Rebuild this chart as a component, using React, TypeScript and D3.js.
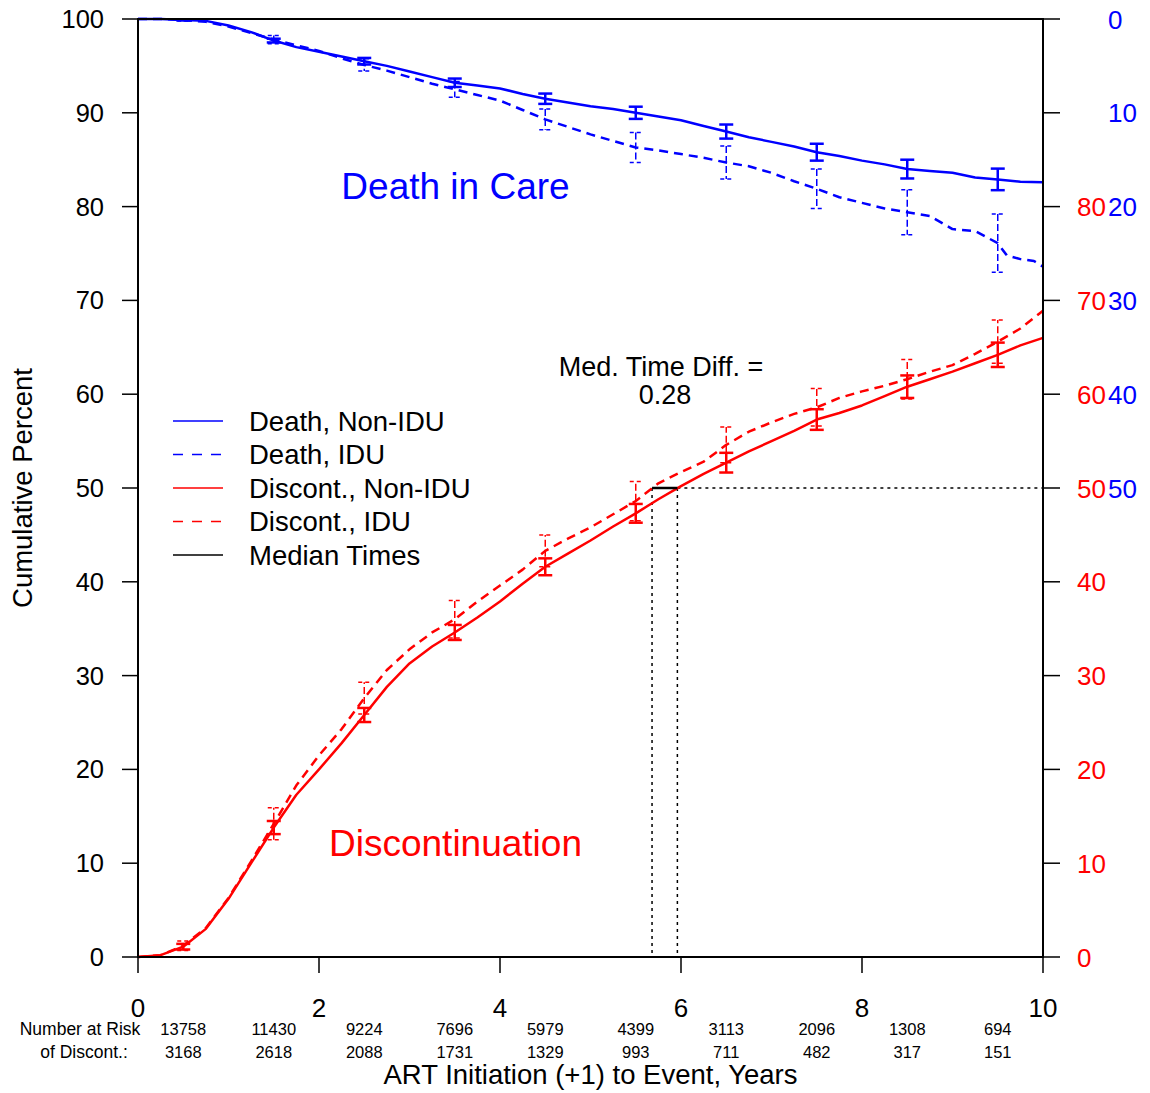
import React from "react";
import * as d3 from "d3";

// ---------- DATA ----------
const gridTimes = [0, 0.25, 0.5, 0.75, 1, 1.25, 1.5, 1.75, 2, 2.25, 2.5, 2.75, 3, 3.25, 3.5, 3.75, 4, 4.25, 4.5, 4.75, 5, 5.25, 5.5, 5.75, 6, 6.25, 6.5, 6.75, 7, 7.25, 7.5, 7.75, 8, 8.25, 8.5, 8.75, 9, 9.25, 9.5, 9.75, 10];

// cumulative death, percent (plotted on reversed right-hand blue scale)
const deathNonIdu = [0, 0, 0.1, 0.2, 0.7, 1.4, 2.3, 3.0, 3.5, 4.0, 4.5, 5.0, 5.6, 6.2, 6.8, 7.1, 7.4, 8.0, 8.5, 8.9, 9.3, 9.6, 10.0, 10.4, 10.8, 11.4, 12.0, 12.6, 13.1, 13.6, 14.2, 14.6, 15.1, 15.5, 16.0, 16.2, 16.4, 16.9, 17.1, 17.35, 17.4];

const deathIduTimes = [0, 0.25, 0.5, 0.75, 1, 1.25, 1.5, 1.75, 2, 2.25, 2.5, 2.75, 3, 3.25, 3.5, 3.75, 4, 4.25, 4.5, 4.75, 5, 5.25, 5.5, 5.75, 6, 6.25, 6.5, 6.75, 7, 7.25, 7.5, 7.75, 8, 8.25, 8.5, 8.75, 9, 9.25, 9.5, 9.6, 9.75, 9.9, 10];
const deathIdu = [0, 0, 0.1, 0.3, 0.8, 1.5, 2.2, 2.8, 3.4, 4.2, 4.9, 5.5, 6.2, 6.9, 7.5, 8.1, 8.7, 9.7, 10.7, 11.5, 12.3, 13.0, 13.7, 14.0, 14.4, 14.8, 15.3, 15.7, 16.4, 17.3, 18.1, 19.0, 19.6, 20.2, 20.6, 21.0, 22.4, 22.6, 23.9, 25.2, 25.6, 25.8, 26.4];

// cumulative discontinuation, percent
const discNonIdu = [0, 0.2, 1.1, 3.0, 6.2, 10.0, 13.8, 17.3, 20.0, 22.8, 25.8, 28.8, 31.3, 33.1, 34.6, 36.2, 37.9, 39.8, 41.6, 43.0, 44.4, 45.9, 47.3, 48.8, 50.2, 51.5, 52.7, 53.9, 55.0, 56.1, 57.3, 58.0, 58.8, 59.8, 60.8, 61.6, 62.4, 63.3, 64.2, 65.2, 66.0];
const discIdu = [0, 0.2, 1.2, 3.1, 6.3, 10.2, 14.2, 18.3, 21.5, 24.3, 27.6, 30.6, 32.8, 34.6, 36.0, 37.9, 39.6, 41.3, 43.3, 44.6, 45.8, 47.2, 48.6, 50.5, 51.7, 52.8, 54.6, 56.0, 57.0, 57.9, 58.6, 59.6, 60.3, 60.9, 61.6, 62.4, 63.1, 64.3, 65.6, 67.0, 68.9];

// confidence-interval half widths at the error-bar times
const ciTimes = [0.5, 1.5, 2.5, 3.5, 4.5, 5.5, 6.5, 7.5, 8.5, 9.5];
const deathNonIduCI = [0.05, 0.2, 0.35, 0.45, 0.55, 0.65, 0.75, 0.9, 1.0, 1.15];
const deathIduCI = [0.1, 0.45, 0.65, 0.85, 1.1, 1.6, 1.75, 2.1, 2.4, 3.1];
const discNonIduCI = [0.3, 0.7, 0.75, 0.8, 0.9, 1.0, 1.05, 1.1, 1.2, 1.3];
const discIduCI = [0.5, 1.7, 1.7, 2.0, 1.7, 2.1, 1.9, 2.0, 2.1, 2.3];

const medianTimes = [5.68, 5.96];
const medianLevel = 50;
const medianDiffLabel = "0.28";

const riskTimes = [0.5, 1.5, 2.5, 3.5, 4.5, 5.5, 6.5, 7.5, 8.5, 9.5];
const riskAll = ["13758", "11430", "9224", "7696", "5979", "4399", "3113", "2096", "1308", "694"];
const riskIdu = ["3168", "2618", "2088", "1731", "1329", "993", "711", "482", "317", "151"];

const leftTicks = [0, 10, 20, 30, 40, 50, 60, 70, 80, 90, 100];
const rightRedTicks = [0, 10, 20, 30, 40, 50, 60, 70, 80];
const rightBlueTicks = [0, 10, 20, 30, 40, 50];
const xTicks = [0, 2, 4, 6, 8, 10];

const legendItems = [
  { label: "Death, Non-IDU", color: "#0000ff", dashed: false },
  { label: "Death, IDU", color: "#0000ff", dashed: true },
  { label: "Discont., Non-IDU", color: "#ff0000", dashed: false },
  { label: "Discont., IDU", color: "#ff0000", dashed: true },
  { label: "Median Times", color: "#000000", dashed: false },
];

// ---------- LAYOUT ----------
const W = 1150;
const H = 1093;
const L = 138, R = 1043, T = 19, B = 957;
const FONT = "'Liberation Sans', Arial, Helvetica, sans-serif";
const BLUE = "#0000ff";
const RED = "#ff0000";

const x = d3.scaleLinear().domain([0, 10]).range([L, R]);
const y = d3.scaleLinear().domain([0, 100]).range([B, T]);
const yDeath = d3.scaleLinear().domain([0, 100]).range([T, B]);

function valueAt(times: number[], vals: number[], t: number) {
  const i = times.findIndex((v) => Math.abs(v - t) < 1e-9);
  return vals[i];
}

function makePath(times: number[], vals: number[], ys: d3.ScaleLinear<number, number>) {
  const line = d3
    .line<number>()
    .x((_, i) => x(times[i]))
    .y((v) => ys(v))
    .curve(d3.curveLinear);
  return line(vals) || "";
}

function ErrorBars({ times, vals, ci, ys, color, dashed }: any) {
  return (
    <g>
      {ciTimes.map((t, i) => {
        const c = valueAt(times, vals, t);
        const y1 = ys(c - ci[i]);
        const y2 = ys(c + ci[i]);
        const cx = x(t);
        const hw = dashed ? 6 : 7;
        const sw = dashed ? 1.5 : 2.5;
        const da = dashed ? "7,3" : undefined;
        const cda = dashed ? "4,3" : undefined;
        return (
          <g key={i} stroke={color} fill="none">
            <line x1={cx} x2={cx} y1={y1} y2={y2} strokeWidth={sw} strokeDasharray={da} />
            <line x1={cx - hw} x2={cx + hw} y1={y1} y2={y1} strokeWidth={sw} strokeDasharray={cda} />
            <line x1={cx - hw} x2={cx + hw} y1={y2} y2={y2} strokeWidth={sw} strokeDasharray={cda} />
          </g>
        );
      })}
    </g>
  );
}

export default function App() {
  const legendY0 = 421;
  const legendStep = 33.5;
  return (
    <svg
      width={W}
      height={H}
      viewBox={`0 0 ${W} ${H}`}
      style={{ position: "absolute", left: 0, top: 0, background: "#fff" }}
      fontFamily={FONT}
    >
      <rect x={0} y={0} width={W} height={H} fill="#fff" />

      {/* median reference lines */}
      <g stroke="#000" strokeWidth={1.5} strokeDasharray="3,4" fill="none">
        <line x1={x(medianTimes[0])} x2={x(medianTimes[0])} y1={y(medianLevel)} y2={y(0)} />
        <line x1={x(medianTimes[1])} x2={x(medianTimes[1])} y1={y(medianLevel)} y2={y(0)} />
        <line x1={x(medianTimes[1])} x2={x(10)} y1={y(medianLevel)} y2={y(medianLevel)} />
      </g>

      {/* curves */}
      <g fill="none" strokeWidth={2.5} strokeLinejoin="round">
        <path d={makePath(gridTimes, deathNonIdu, yDeath)} stroke={BLUE} />
        <path d={makePath(deathIduTimes, deathIdu, yDeath)} stroke={BLUE} strokeDasharray="9,6" />
        <path d={makePath(gridTimes, discNonIdu, y)} stroke={RED} />
        <path d={makePath(gridTimes, discIdu, y)} stroke={RED} strokeDasharray="9,6" />
      </g>

      <ErrorBars times={gridTimes} vals={deathNonIdu} ci={deathNonIduCI} ys={yDeath} color={BLUE} dashed={false} />
      <ErrorBars times={deathIduTimes} vals={deathIdu} ci={deathIduCI} ys={yDeath} color={BLUE} dashed={true} />
      <ErrorBars times={gridTimes} vals={discNonIdu} ci={discNonIduCI} ys={y} color={RED} dashed={false} />
      <ErrorBars times={gridTimes} vals={discIdu} ci={discIduCI} ys={y} color={RED} dashed={true} />

      {/* median segment */}
      <line
        x1={x(medianTimes[0])}
        x2={x(medianTimes[1])}
        y1={y(medianLevel)}
        y2={y(medianLevel)}
        stroke="#000"
        strokeWidth={2.5}
      />

      {/* frame */}
      <rect x={L} y={T} width={R - L} height={B - T} fill="none" stroke="#000" strokeWidth={2} />

      {/* left axis */}
      <g>
        {leftTicks.map((v) => (
          <g key={v}>
            <line x1={L - 16} x2={L} y1={y(v)} y2={y(v)} stroke="#000" strokeWidth={1.5} />
            <text x={104} y={y(v) + 9} textAnchor="end" fontSize={25.5} fill="#000">
              {v}
            </text>
          </g>
        ))}
      </g>

      {/* right axis */}
      <g>
        {leftTicks.map((v) => (
          <line key={v} x1={R} x2={R + 17} y1={y(v)} y2={y(v)} stroke="#000" strokeWidth={1.5} />
        ))}
        {rightRedTicks.map((v) => (
          <text key={"r" + v} x={1077} y={y(v) + 9.5} textAnchor="start" fontSize={26} fill={RED}>
            {v}
          </text>
        ))}
        {rightBlueTicks.map((v) => (
          <text key={"b" + v} x={1108} y={yDeath(v) + 9.5} textAnchor="start" fontSize={26} fill={BLUE}>
            {v}
          </text>
        ))}
      </g>

      {/* bottom axis */}
      <g>
        {xTicks.map((v) => (
          <g key={v}>
            <line x1={x(v)} x2={x(v)} y1={B} y2={B + 16} stroke="#000" strokeWidth={1.5} />
            <text x={x(v)} y={1017} textAnchor="middle" fontSize={26} fill="#000">
              {v}
            </text>
          </g>
        ))}
      </g>

      {/* number at risk */}
      <text x={80} y={1034.5} textAnchor="middle" fontSize={17.5}>Number at Risk</text>
      <text x={84} y={1057.5} textAnchor="middle" fontSize={17.5}>of Discont.:</text>
      {riskTimes.map((t, i) => (
        <g key={t}>
          <text x={x(t)} y={1034.5} textAnchor="middle" fontSize={16.5}>{riskAll[i]}</text>
          <text x={x(t)} y={1057.5} textAnchor="middle" fontSize={16.5}>{riskIdu[i]}</text>
        </g>
      ))}

      {/* axis titles */}
      <text x={(L + R) / 2} y={1084} textAnchor="middle" fontSize={27.5}>
        ART Initiation (+1) to Event, Years
      </text>
      <text
        transform={`translate(32, ${(T + B) / 2}) rotate(-90)`}
        textAnchor="middle"
        fontSize={27.5}
      >
        Cumulative Percent
      </text>

      {/* legend */}
      {legendItems.map((it, i) => {
        const ly = legendY0 + i * legendStep;
        return (
          <g key={it.label}>
            <line
              x1={173}
              x2={223}
              y1={ly}
              y2={ly}
              stroke={it.color}
              strokeWidth={1.5}
              strokeDasharray={it.dashed ? "10,9" : undefined}
            />
            <text x={249} y={ly + 9.5} fontSize={27.5} fill="#000">
              {it.label}
            </text>
          </g>
        );
      })}

      {/* annotations */}
      <text x={455.5} y={199} textAnchor="middle" fontSize={37} fill={BLUE}>Death in Care</text>
      <text x={455.5} y={856} textAnchor="middle" fontSize={37} fill={RED}>Discontinuation</text>
      <text x={661} y={376} textAnchor="middle" fontSize={27}>Med. Time Diff. =</text>
      <text x={665} y={403.5} textAnchor="middle" fontSize={27}>{medianDiffLabel}</text>
    </svg>
  );
}
